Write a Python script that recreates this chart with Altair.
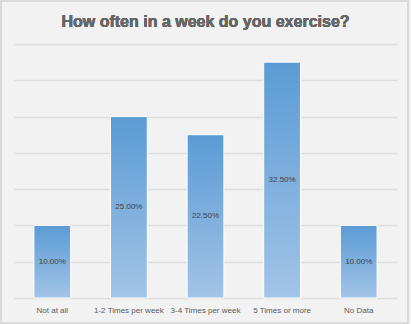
import altair as alt
import pandas as pd

title_text = "How often in a week do you exercise?"
categories = ["Not at all", "1-2 Times per week", "3-4 Times per week", "5 Times or more", "No Data"]
values = [0.10, 0.25, 0.225, 0.325, 0.10]
labels = ["10.00%", "25.00%", "22.50%", "32.50%", "10.00%"]
grid_values = [0, 0.05, 0.1, 0.15, 0.2, 0.25, 0.3, 0.35]

df = pd.DataFrame({"cat": categories, "val": values, "label": labels})
df["mid"] = df["val"] / 2

grad = alt.Gradient(
    gradient="linear",
    stops=[alt.GradientStop(color="#5b9bd5", offset=0), alt.GradientStop(color="#a2c4e7", offset=1)],
    x1=0, x2=0, y1=0, y2=1,
)

xenc = alt.X("cat:N", sort=categories, title=None,
             scale=alt.Scale(paddingInner=0.52, paddingOuter=0.26),
             axis=alt.Axis(labelAngle=0, domain=False, ticks=False, labelFont="Liberation Sans",
                           labelFontSize=8, labelColor="#595959", labelPadding=8))
yscale = alt.Scale(domain=[0, 0.35])
yaxis = alt.Axis(labels=False, ticks=False, domain=False, values=grid_values,
                 gridColor="#dedede", gridWidth=1.5, grid=True)

base = alt.Chart(df)

border = base.mark_rect(fill=None, stroke="#d9d9d9", strokeWidth=1.2).encode(
    x=alt.value(-13), x2=alt.value(394), y=alt.value(-43), y2=alt.value(279)
)

title = base.mark_text(font="Liberation Sans", fontSize=16, fontWeight="bold",
                       color="#666666", align="center", baseline="middle").encode(
    x=alt.value(191.5), y=alt.value(-22), text=alt.value(title_text)
)

bars = base.mark_bar(color=grad, stroke="white", strokeWidth=1).encode(
    x=xenc,
    y=alt.Y("val:Q", scale=yscale, title=None, axis=yaxis),
)

text = base.mark_text(font="Liberation Sans", fontSize=8, color="#404040").encode(
    x=alt.X("cat:N", sort=categories),
    y=alt.Y("mid:Q", scale=yscale, title=None, axis=yaxis),
    text="label:N",
)

chart = alt.layer(border, bars, text, title).properties(
    width=383, height=254,
    background="#f2f2f2",
    padding={"left": 14, "top": 44, "right": 14, "bottom": 26},
    autosize=alt.AutoSizeParams(type="none"),
).configure_view(stroke=None)

chart.save("out.html", embed_options={"renderer": "svg", "actions": False})
